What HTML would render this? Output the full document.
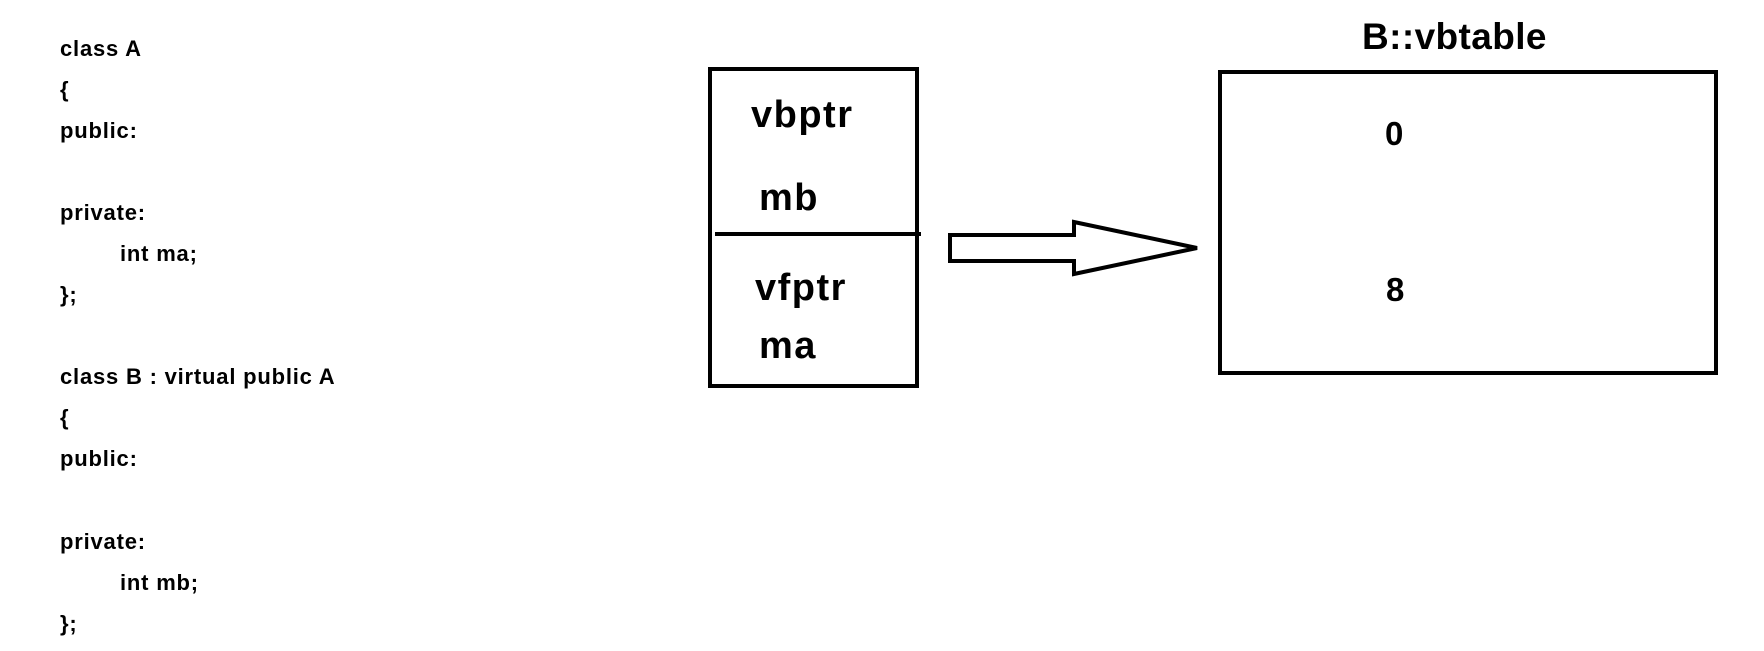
<!DOCTYPE html>
<html><head><meta charset="utf-8"><style>
html,body{margin:0;padding:0;background:#fff;width:1764px;height:651px;overflow:hidden}
svg text{font-family:"Liberation Sans",Arial,sans-serif;font-weight:bold;fill:#000}
</style></head><body>
<svg width="1764" height="651" viewBox="0 0 1764 651" xmlns="http://www.w3.org/2000/svg">
<g font-size="22" letter-spacing="0.8">
<text x="60" y="56">class A</text>
<text x="60" y="97">{</text>
<text x="60" y="138">public:</text>
<text x="60" y="220">private:</text>
<text x="120" y="261">int ma;</text>
<text x="60" y="302">};</text>
<text x="60" y="384">class B : virtual public A</text>
<text x="60" y="425">{</text>
<text x="60" y="466">public:</text>
<text x="60" y="549">private:</text>
<text x="120" y="590">int mb;</text>
<text x="60" y="631">};</text>
</g>
<rect x="710" y="69" width="207" height="317" fill="none" stroke="#000" stroke-width="4"/>
<line x1="715" y1="234" x2="921" y2="234" stroke="#000" stroke-width="4"/>
<g font-size="38" letter-spacing="1.5">
<text x="751" y="127">vbptr</text>
<text x="759" y="210">mb</text>
<text x="755" y="300">vfptr</text>
<text x="759" y="358">ma</text>
</g>
<polygon points="950,235 1074,235 1074,222 1197,248 1074,274 1074,261 950,261" fill="none" stroke="#000" stroke-width="4" stroke-linejoin="miter"/>
<rect x="1220" y="72" width="496" height="301" fill="none" stroke="#000" stroke-width="4"/>
<text x="1362" y="49" font-size="37" letter-spacing="0.4">B::vbtable</text>
<text x="1385" y="145" font-size="33">0</text>
<text x="1386" y="301" font-size="33">8</text>
</svg>
</body></html>
